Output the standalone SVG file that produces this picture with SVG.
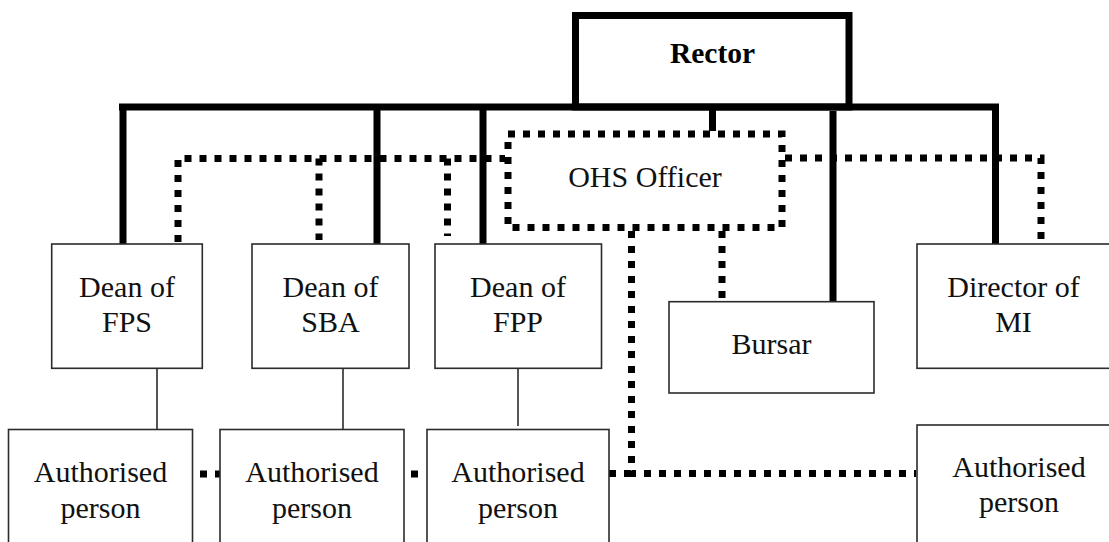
<svg xmlns="http://www.w3.org/2000/svg" width="1109" height="542" viewBox="0 0 1109 542">
<style>
.box{fill:#fff;stroke:#2b2b2b;stroke-width:1.6}
.thick{fill:none;stroke:#000;stroke-width:7}
.dot{fill:none;stroke:#000;stroke-width:7;stroke-dasharray:7 8}
.thin{fill:none;stroke:#2b2b2b;stroke-width:1.6}
text{font-family:"Liberation Serif","Times New Roman",serif;font-size:30px;fill:#111;text-anchor:middle}
.b{font-weight:bold;fill:#000;font-size:29.5px}
</style>
<rect width="1109" height="542" fill="#fff"/>
<g id="connectors">
<path class="thick" d="M119 107 H999"/>
<path class="thick" d="M123 107 V244"/>
<path class="thick" d="M377 107 V244"/>
<path class="thick" d="M483 107 V244"/>
<path class="thick" d="M712.5 107 V131"/>
<path class="thick" d="M833 111 V301"/>
<path class="thick" d="M995.5 107 V244"/>
<path class="dot" d="M178 242 V158.5 H505"/>
<path class="dot" d="M319 158.5 V240"/>
<path class="dot" d="M447.5 158.5 V236"/>
<path class="dot" d="M785 158 H1041 V244"/>
<path class="dot" d="M631.5 231 V473.5 H916"/>
<path class="dot" d="M609 473.5 H631.5"/>
<path class="dot" d="M722 231 V298"/>
<path class="dot" d="M200 474 H220"/>
<path class="dot" d="M411 474 H418"/>
<path class="thin" d="M157 368 V430"/>
<path class="thin" d="M343 338 V430"/>
<path class="thin" d="M518 368 V426"/>
</g>
<g id="rector">
<rect x="575.5" y="15.5" width="273.5" height="91.5" fill="none" stroke="#000" stroke-width="7"/>
<text class="b" x="712.5" y="63">Rector</text>
</g>
<g id="ohs">
<rect x="508" y="134" width="274" height="93.5" class="dot"/>
<text x="645" y="187">OHS Officer</text>
</g>
<g id="dean-fps">
<rect class="box" x="51.7" y="244" width="150.6" height="124.3"/>
<text x="127" y="297">Dean of</text>
<text x="127" y="332">FPS</text>
</g>
<g id="dean-sba">
<rect class="box" x="252" y="244" width="157" height="124.3"/>
<text x="330.5" y="297">Dean of</text>
<text x="330.5" y="332">SBA</text>
</g>
<g id="dean-fpp">
<rect class="box" x="435" y="244" width="166.5" height="124.3"/>
<text x="518" y="297">Dean of</text>
<text x="518" y="332">FPP</text>
</g>
<g id="bursar">
<rect class="box" x="669" y="301.7" width="205" height="91.3"/>
<text x="771.5" y="354">Bursar</text>
</g>
<g id="director-mi">
<rect class="box" x="917" y="244" width="200" height="124.3"/>
<text x="1013.5" y="297">Director of</text>
<text x="1013.5" y="332">MI</text>
</g>
<g id="auth1">
<rect class="box" x="8.5" y="429.5" width="184" height="130"/>
<text x="100.5" y="482">Authorised</text>
<text x="100.5" y="518">person</text>
</g>
<g id="auth2">
<rect class="box" x="220" y="429.5" width="184" height="130"/>
<text x="312" y="482">Authorised</text>
<text x="312" y="518">person</text>
</g>
<g id="auth3">
<rect class="box" x="427" y="429.5" width="182" height="130"/>
<text x="518" y="482">Authorised</text>
<text x="518" y="518">person</text>
</g>
<g id="auth4">
<rect class="box" x="917" y="425" width="200" height="135"/>
<text x="1019" y="477">Authorised</text>
<text x="1019" y="512">person</text>
</g>
</svg>
